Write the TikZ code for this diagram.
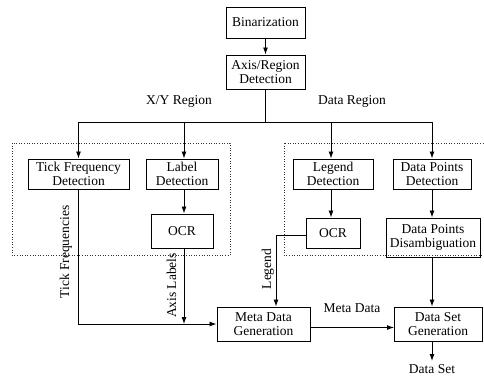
\documentclass[tikz,border=0pt]{standalone}
\usepackage{fontspec}
\setmainfont{Liberation Serif}
\usetikzlibrary{arrows.meta}
\begin{document}
\begin{tikzpicture}[x=1pt,y=-1pt,
  box/.style={draw, line width=1pt, rectangle, inner sep=0pt, align=center,
    font=\fontsize{13.5}{13.5}\selectfont},
  lbl/.style={inner sep=0pt, font=\fontsize{13.5}{13.5}\selectfont},
  conn/.style={line width=0.9pt, -{Latex[length=7pt,width=5pt]}},
  plain/.style={line width=0.9pt},
  region/.style={dotted, line width=0.6pt, draw=black!80}]
\clip (0,0) rectangle (484,375);
\fill[white] (0,0) rectangle (484,375);
% regions
\draw[region] (12,143) rectangle (230,255);
\draw[region] (284,143) rectangle (490,255);
% boxes
\node[box, minimum width=79pt, minimum height=31pt] (bin) at (265.5,22.5) {Binarization};
\node[box, minimum width=79pt, minimum height=34pt] (axis) at (265.5,72) {Axis/Region\\Detection};
\node[box, minimum width=101pt, minimum height=30pt] (tick) at (78.5,174) {Tick Frequency\\Detection};
\node[box, minimum width=72pt, minimum height=30pt] (label) at (182,174) {Label\\Detection};
\node[box, minimum width=80pt, minimum height=30pt] (legend) at (333,174) {Legend\\Detection};
\node[box, minimum width=78pt, minimum height=30pt] (dpd) at (432,174) {Data Points\\Detection};
\node[box, minimum width=62pt, minimum height=34pt] (ocra) at (182,231) {OCR};
\node[box, minimum width=54pt, minimum height=30pt] (ocrb) at (333,233) {OCR};
\node[box, minimum width=94pt, minimum height=39pt] (dpdis) at (433,237.5) {Data Points\\Disambiguation};
\node[box, minimum width=93pt, minimum height=34pt] (meta) at (263.5,324) {Meta Data\\Generation};
\node[box, minimum width=88pt, minimum height=34pt] (dsg) at (438,324) {Data Set\\Generation};
% labels
\node[lbl] (xyr) at (179,101) {X/Y Region};
\node[lbl] (dr) at (352,101) {Data Region};
\node[lbl] (ds) at (432,369) {Data Set};
\node[lbl] (md) at (352,308) {Meta Data};
\node[lbl, rotate=90] (tf) at (66,252) {Tick Frequencies};
\node[lbl, rotate=90] (al) at (171.5,285.5) {Axis Labels};
\node[lbl, rotate=90] (lg) at (268,269) {Legend};
% coordinates
\coordinate (split) at (265.5,122);
\coordinate (xa) at (184,0);
\coordinate (xb) at (331,0);
\coordinate (corner) at (78.5,324);
\coordinate (lgc) at (276,235);
\coordinate (mout) at (310,327.5);
\coordinate (din) at (394,327.5);
\coordinate (dsx) at (432,341);
\coordinate (dsend) at (432,361);
% connectors
\draw[conn] (bin) -- (axis);
\draw[plain] (axis.south) -- (split);
\draw[plain] (tick.north |- split) -- (dpd.north |- split);
\draw[conn] (tick.north |- split) -- (tick.north);
\draw[conn] (xa |- split) -- (xa |- label.north);
\draw[conn] (xb |- split) -- (xb |- legend.north);
\draw[conn] (dpd.north |- split) -- (dpd.north);
\draw[conn] (xa |- label.south) -- (xa |- ocra.north);
\draw[conn] (xb |- legend.south) -- (xb |- ocrb.north);
\draw[conn] (dpd.south) -- (dpd.south |- dpdis.north);
\draw[conn] (dpd.south |- dpdis.south) -- (dpd.south |- dsg.north);
\draw[conn] (tick.south) -- (corner) -- (meta.west);
\draw[conn] (xa |- ocra.south) -- (xa |- meta.west);
\draw[conn] (ocrb.west |- lgc) -- (lgc) -- (lgc |- meta.north);
\draw[conn] (mout) -- (din);
\draw[conn] (dsx) -- (dsend);
\end{tikzpicture}
\end{document}
